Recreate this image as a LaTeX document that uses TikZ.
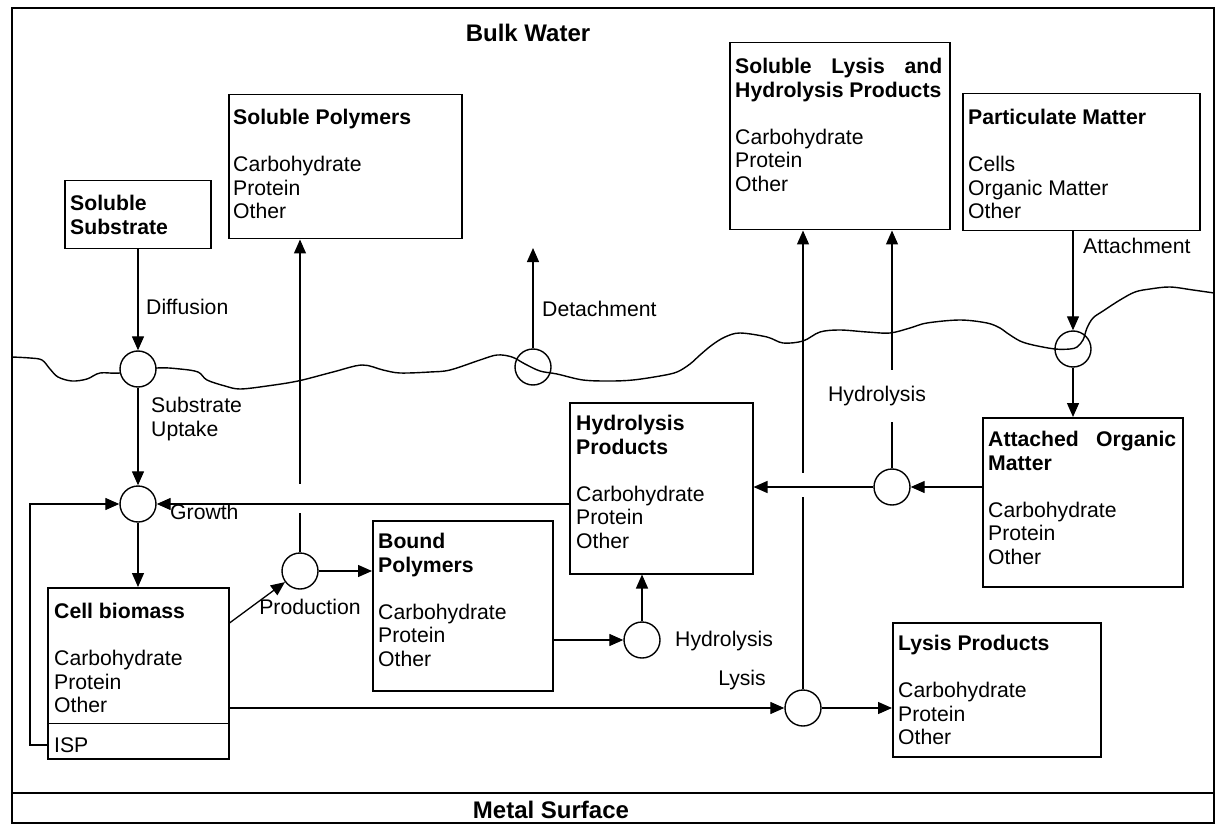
\documentclass[tikz,border=0pt]{standalone}
\usepackage{fontspec}
\setmainfont{Liberation Sans}
\usetikzlibrary{arrows.meta,calc}
\newcommand\bodyfont{\fontsize{21.2pt}{23.5pt}\selectfont}
\newcommand\headfont{\fontsize{24pt}{27pt}\selectfont\bfseries}
\begin{document}
\begin{tikzpicture}[x=1pt,y=-1pt,
  box/.style={draw, line width=1.5pt, rectangle, inner sep=0pt, anchor=north west},
  proc/.style={circle, draw, line width=1.4pt, minimum size=36pt, inner sep=0pt},
  arr/.style={line width=1.3pt, -{Triangle[length=14pt,width=12pt]}},
  txt/.style={font=\bodyfont, inner sep=0pt, anchor=base west},
  lbl/.style={font=\bodyfont, inner sep=1pt},
  gapline/.style={draw=white, line width=7pt}]
\useasboundingbox (0,0) rectangle (1217,826);
% frame
\draw[line width=1.5pt] (12,8) rectangle (1214,823);
\draw[line width=1.5pt] (12,793) -- (1214,793);
\node[font=\headfont] (bw) at (528,33) {Bulk Water};
\node[font=\headfont] (ms) at (551,810) {Metal Surface};
% biofilm surface
\draw[line width=1.4pt] plot[smooth, tension=0.55] coordinates {
 (12,357) (30,358) (42,360) (50,369) (58,377) (72,381) (87,379) (100,373) (120,373)
 (157,368) (180,369) (198,372) (207,380) (225,386) (240,389) (267,386) (298,381)
 (333,372) (362,365) (383,370) (400,373) (430,372) (450,370) (480,360) (497,355)
 (512,357) (525,364) (540,371) (557,374) (583,380) (610,381) (633,380) (660,376)
 (677,372) (690,364) (700,355) (712,345) (725,337) (740,333) (767,337) (783,343)
 (803,341) (820,332) (840,330) (867,332) (890,333) (910,328) (927,323) (960,320)
 (987,323) (1000,328) (1007,333) (1020,341) (1033,345) (1055,349) (1070,349)
 (1077,347) (1083,340) (1087,328) (1093,318) (1103,311) (1120,300) (1135,292)
 (1150,289) (1170,287) (1193,290) (1214,293)};
% boxes
\node[box, minimum width=146pt, minimum height=68pt] (ss) at (64,180) {};
\node[txt] (sst) at (70,210.6) {\parbox[t]{140pt}{\bfseries Soluble\\Substrate}};
\node[box, minimum width=233pt, minimum height=144pt] (sp) at (228,94) {};
\node[txt] (spt) at (233,124.6) {\parbox[t]{225pt}{\textbf{Soluble Polymers}\\ \mbox{}\\ Carbohydrate\\ Protein\\ Other}};
\node[box, minimum width=220pt, minimum height=187pt] (slh) at (729,42) {};
\node[txt] (slht) at (735,73.6) {\parbox[t]{212pt}{\makebox[207pt][s]{\bfseries Soluble Lysis and}\\ \textbf{Hydrolysis Products}\\ \mbox{}\\ Carbohydrate\\ Protein\\ Other}};
\node[box, minimum width=237pt, minimum height=137pt] (pm) at (962,93) {};
\node[txt] (pmt) at (968,124.6) {\parbox[t]{228pt}{\textbf{Particulate Matter}\\ \mbox{}\\ Cells\\ Organic Matter\\ Other}};
\node[box, minimum width=183pt, minimum height=171pt] (hp) at (569,402) {};
\node[txt] (hpt) at (576,430.6) {\parbox[t]{175pt}{\textbf{Hydrolysis}\\ \textbf{Products}\\ \mbox{}\\ Carbohydrate\\ Protein\\ Other}};
\node[box, minimum width=180pt, minimum height=170pt] (bp) at (372,520) {};
\node[txt] (bpt) at (378,548.6) {\parbox[t]{172pt}{\textbf{Bound}\\ \textbf{Polymers}\\ \mbox{}\\ Carbohydrate\\ Protein\\ Other}};
\node[box, minimum width=181pt, minimum height=171pt] (cb) at (47,587) {};
\draw[line width=1.5pt] ($(cb.south west)+(0,-36)$) -- ($(cb.south east)+(0,-36)$);
\node[txt] (cbt) at (54,618.6) {\parbox[t]{172pt}{\textbf{Cell biomass}\\ \mbox{}\\ Carbohydrate\\ Protein\\ Other}};
\node[font=\bodyfont, inner sep=0pt, anchor=west] (isp) at (54,745) {ISP};
\node[box, minimum width=200pt, minimum height=169pt] (am) at (982,417) {};
\node[txt] (amt) at (988,446.6) {\parbox[t]{192pt}{\makebox[188pt][s]{\bfseries Attached Organic}\\ \textbf{Matter}\\ \mbox{}\\ Carbohydrate\\ Protein\\ Other}};
\node[box, minimum width=208pt, minimum height=134pt] (lp) at (892,622) {};
\node[txt] (lpt) at (898,650.6) {\parbox[t]{200pt}{\textbf{Lysis Products}\\ \mbox{}\\ Carbohydrate\\ Protein\\ Other}};
% process circles
\node[proc, fill=white] (cdiff) at (138,369) {};
\node[proc] (cgrowth) at (138,504) {};
\node[proc] (cprod) at (300,571) {};
\node[proc] (chyda) at (642,640) {};
\node[proc] (clys) at (803,708) {};
\node[proc] (chydb) at (892,487) {};
\node[proc] (catt) at (1073,349) {};
\node[proc] (cdet) at (533,367) {};
\coordinate (detend) at (533,248);
% connectors
\draw[arr] (cdiff |- ss.south) -- (cdiff);
\draw[arr] (cdiff) -- (cgrowth);
\draw[arr] (cgrowth) -- (cgrowth |- cb.north);
\draw[arr] (isp.west -| cb.west) -- ++(-17,0) |- (cgrowth);
\draw[arr] (cprod) -- (cprod |- sp.south);
\draw[gapline] ($(cprod |- cgrowth)+(0,-20)$) -- ($(cprod |- cgrowth)+(0,9)$);
\draw[arr] (hp.west |- cgrowth) -- (cgrowth);
\draw[arr] ($(cb.north east)+(0,36)$) -- (cprod);
\draw[arr] (cprod) -- (cprod -| bp.west);
\draw[arr] (chyda -| bp.east) -- (chyda);
\draw[arr] (chyda) -- (chyda |- hp.south);
\draw[arr] ($(cb.north east)+(0,121)$) -- (clys);
\draw[arr] (clys) -- (clys -| lp.west);
\draw[arr] (clys) -- (clys |- slh.south);
\draw[gapline] ($(clys |- chydb)+(0,-14)$) -- ($(clys |- chydb)+(0,10)$);
\draw[arr] (chydb -| am.west) -- (chydb);
\draw[arr] (chydb) -- (chydb -| hp.east);
\draw[arr] (chydb) -- (chydb |- slh.south);
\draw[arr] (catt |- pm.south) -- (catt);
\draw[arr] (catt) -- (catt |- am.north);
\draw[arr] (cdet) -- (detend);
% labels
\node[lbl, anchor=west] (ldiff) at (145,307) {Diffusion};
\node[lbl, anchor=west, align=left] (lupt) at (150,419) {Substrate\\Uptake};
\node[lbl, anchor=west] (lgrow) at (169,512) {Growth};
\node[lbl] (lprod) at (310,607) {Production};
\node[lbl, anchor=west] (lhyda) at (674,641) {Hydrolysis};
\node[lbl] (llys) at (742,680) {Lysis};
\node[lbl, fill=white, inner ysep=16pt] (lhydb) at (877,396) {Hydrolysis};
\node[lbl, anchor=west] (latt) at (1082,246) {Attachment};
\node[lbl, anchor=west] (ldet) at (541,309) {Detachment};
\end{tikzpicture}
\end{document}
